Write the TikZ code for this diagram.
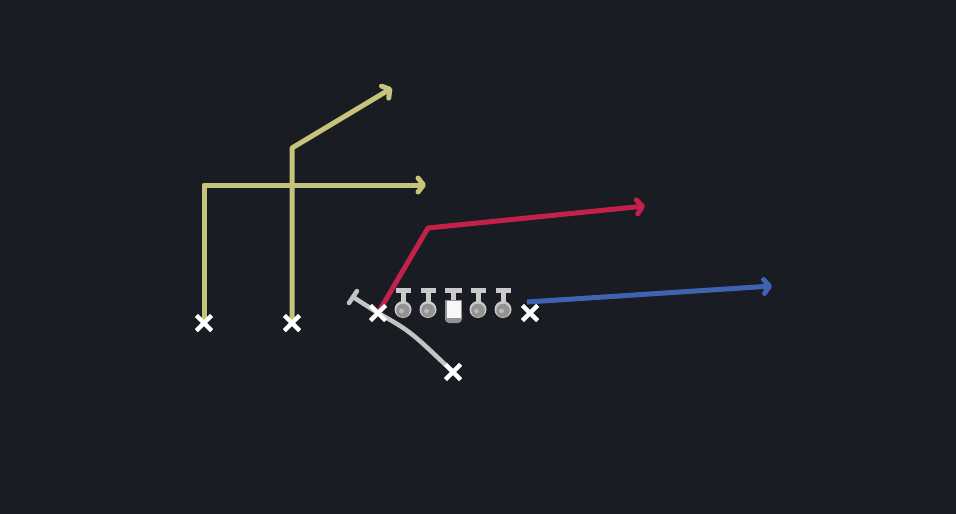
\documentclass[tikz,border=0pt]{standalone}
\usetikzlibrary{arrows.meta,shapes.misc}
\definecolor{bg}{HTML}{191C23}
\definecolor{ylw}{HTML}{C6C37B}
\definecolor{rd}{HTML}{C3214B}
\definecolor{bl}{HTML}{3F63B0}
\definecolor{gr}{HTML}{C4C4C4}
\definecolor{lgr}{HTML}{CACACA}
\definecolor{dgr}{HTML}{939393}
\begin{document}
\begin{tikzpicture}[x=1pt,y=-1pt,
 xmark/.style={cross out,draw=white,line width=4pt,minimum size=11pt,inner sep=0pt},
 route/.style={line width=5pt,line join=round,
   -{Straight Barb[length=5.5pt,width=14pt,round]}},
 tbar/.style={lgr,line width=5pt},
]
\fill[bg] (0,0) rectangle (956,514);
\useasboundingbox (0,0) rectangle (956,514);

% players
\node[xmark] (wr1) at (204,323) {};
\node[xmark] (wr2) at (292,323) {};
\node[xmark] (qb) at (378,313) {};
\node[xmark] (rb) at (453,372) {};
\node[xmark] (te) at (530,313) {};

\coordinate (c1) at (204,185);
\coordinate (t1) at (426,185);
\coordinate (c2) at (292,148);
\coordinate (t2) at (392,88);
\coordinate (c3) at (428,228);
\coordinate (t3) at (645,206);
\coordinate (s4) at (527,302);
\coordinate (t4) at (772,286);
\coordinate (qbT) at (353,297);
\coordinate (bA) at (349,303);
\coordinate (bB) at (357,291);

% routes
\draw[route,ylw] (wr1.center) -- (c1) -- (t1);
\draw[route,ylw] (wr2.center) -- (c2) -- (t2);
\draw[route,rd] (qb.center) -- (c3) -- (t3);
\draw[route,bl] (s4) -- (t4);

% QB drop
\draw[gr,line width=4.5pt,line cap=round] (qbT) -- (qb.center) .. controls (410,331) .. (rb.center);
\draw[gr,line width=4.5pt,line cap=round] (bA) -- (bB);

% linemen
\foreach \x in {403,428,478,503}{
  \draw[tbar] (\x-7.5,290.5) -- (\x+7.5,290.5);
  \draw[tbar] (\x,290.5) -- (\x,303);
  \fill[lgr] (\x,309.5) circle (8.5);
  \fill[dgr] (\x,310.5) circle (6.8);
  \fill[lgr!70!dgr] (\x,309) ++(-1.5,2) circle (2.4);
}
\draw[tbar] (445,290.5) -- (462,290.5);
\draw[tbar] (453.5,290.5) -- (453.5,302);
\fill[dgr] (445,300) rectangle (462,318);
\fill[dgr] (445,312) [rounded corners=4pt] -- (445,323) -- (462,323) -- (462,312);
\fill[white!94!gray] (446.5,301) rectangle (460.5,318);

% redraw X marks on top
\foreach \n in {wr1,wr2,qb,rb,te}{
  \node[xmark] at (\n.center) {};
}
\end{tikzpicture}
\end{document}
